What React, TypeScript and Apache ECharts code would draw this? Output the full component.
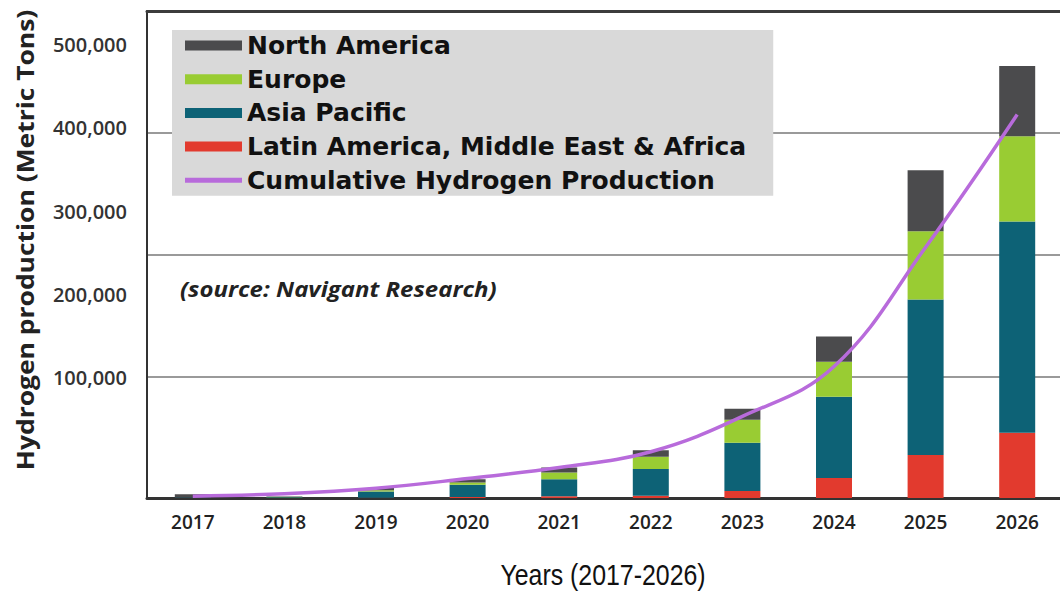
import React, { useEffect, useRef } from "react";
import * as echarts from "echarts";

// Years on the category axis
const years = ["2017", "2018", "2019", "2020", "2021", "2022", "2023", "2024", "2025", "2026"];

// Regional hydrogen production (metric tons), stacked bottom to top
const latinAmericaMEA = [0, 0, 300, 800, 1500, 1800, 5800, 16500, 35400, 53500];
const asiaPacific = [500, 600, 5000, 10000, 14000, 22000, 39500, 66700, 127600, 173700];
const europe = [0, 300, 1000, 2000, 5500, 10000, 19000, 28800, 56000, 70000];
const northAmerica = [2500, 400, 2000, 2500, 4000, 5500, 9000, 20600, 50200, 57600];

// Cumulative production curve
const cumulative = [1500, 3500, 8000, 16000, 25000, 38000, 67000, 108000, 206000, 315000];

// Values printed beside the vertical axis
const yTickLabels = [100000, 200000, 300000, 400000, 500000];

const COLORS = {
  northAmerica: "#4b4b4d",
  europe: "#99cc33",
  asiaPacific: "#0d6276",
  latin: "#e23a2e",
  cumulative: "#b86bdb",
};

const fmt = (v: number) => v.toLocaleString("en-US");

export default function App() {
  const ref = useRef<HTMLDivElement | null>(null);

  useEffect(() => {
    if (!ref.current) return;
    const chart = echarts.init(ref.current, undefined, { renderer: "svg" });

    const barSeries = (name: string, data: number[], color: string) => ({
      name,
      type: "bar",
      stack: "total",
      barWidth: 36,
      data,
      itemStyle: { color },
      emphasis: { disabled: true },
    });

    chart.setOption({
      animation: false,
      backgroundColor: "#ffffff",
      grid: {
        left: 147,
        top: 11,
        width: 916,
        height: 487,
        containLabel: false,
        outerBoundsMode: "none",
      },
      legend: {
        orient: "vertical",
        left: 172,
        top: 30,
        padding: [3, 27, 3, 13],
        backgroundColor: "#d9d9d9",
        itemWidth: 57,
        itemHeight: 10,
        itemGap: 8.7,
        selectedMode: false,
        textStyle: {
          fontFamily: "DejaVu Sans",
          fontWeight: "bold",
          fontSize: 25,
          lineHeight: 24,
          color: "#111111",
        },
        data: [
          { name: "North America", icon: "rect" },
          { name: "Europe", icon: "rect" },
          { name: "Asia Pacific", icon: "rect" },
          { name: "Latin America, Middle East & Africa", icon: "rect" },
          { name: "Cumulative Hydrogen Production", icon: "path://M0,0H57V5H0Z" },
        ],
      },
      xAxis: [
        {
          type: "category",
          data: years,
          position: "bottom",
          axisLine: { show: true, onZero: false, lineStyle: { color: "#333333", width: 3 } },
          axisTick: { show: false },
          axisLabel: {
            margin: 14,
            fontFamily: "Open Sans",
            fontWeight: 600,
            fontSize: 19,
            color: "#222222",
          },
        },
        {
          type: "category",
          data: years,
          position: "top",
          axisLine: { show: true, onZero: false, lineStyle: { color: "#3c3c3c", width: 3 } },
          axisTick: { show: false },
          axisLabel: { show: false },
        },
      ],
      yAxis: [
        {
          type: "value",
          min: 0,
          max: 400000,
          interval: 100000,
          position: "left",
          axisLine: { show: true, onZero: false, lineStyle: { color: "#333333", width: 2 } },
          axisTick: { show: false },
          axisLabel: { show: false },
          splitLine: { show: true, lineStyle: { color: "#9a9a9a", width: 2 } },
        },
        {
          type: "value",
          min: -44000,
          max: 540000,
          position: "left",
          axisLine: { show: false, onZero: false },
          axisTick: { show: false },
          splitLine: { show: false },
          axisLabel: {
            customValues: yTickLabels,
            formatter: (v: number) => fmt(v),
            margin: 20,
            fontFamily: "Open Sans",
            fontWeight: 600,
            fontSize: 20,
            color: "#333333",
          },
        },
      ],
      graphic: [
        {
          type: "text",
          x: 25,
          y: 240,
          rotation: Math.PI / 2,
          scaleX: 1.15,
          style: {
            text: "Hydrogen production (Metric Tons)",
            font: "bold 23px 'Open Sans'",
            fill: "#222222",
            align: "center",
            verticalAlign: "middle",
          },
        },
        {
          type: "text",
          x: 180,
          y: 288,
          scaleX: 1.09,
          style: {
            text: "(source: Navigant Research)",
            font: "italic bold 22px 'Open Sans'",
            fill: "#222222",
            align: "left",
            verticalAlign: "middle",
          },
        },
        {
          type: "text",
          x: 603,
          y: 575,
          scaleX: 0.83,
          style: {
            text: "Years (2017-2026)",
            font: "30px 'Liberation Sans'",
            fill: "#111111",
            align: "center",
            verticalAlign: "middle",
          },
        },
      ],
      series: [
        barSeries("Latin America, Middle East & Africa", latinAmericaMEA, COLORS.latin),
        barSeries("Asia Pacific", asiaPacific, COLORS.asiaPacific),
        barSeries("Europe", europe, COLORS.europe),
        barSeries("North America", northAmerica, COLORS.northAmerica),
        {
          name: "Cumulative Hydrogen Production",
          type: "line",
          data: cumulative,
          smooth: 0.4,
          symbol: "none",
          lineStyle: { color: COLORS.cumulative, width: 3.5 },
          itemStyle: { color: COLORS.cumulative },
          emphasis: { disabled: true },
          z: 5,
        },
      ],
    });

    return () => chart.dispose();
  }, []);

  return (
    <div
      ref={ref}
      style={{ position: "fixed", left: 0, top: 0, width: 1060, height: 592, background: "#fff" }}
    />
  );
}
